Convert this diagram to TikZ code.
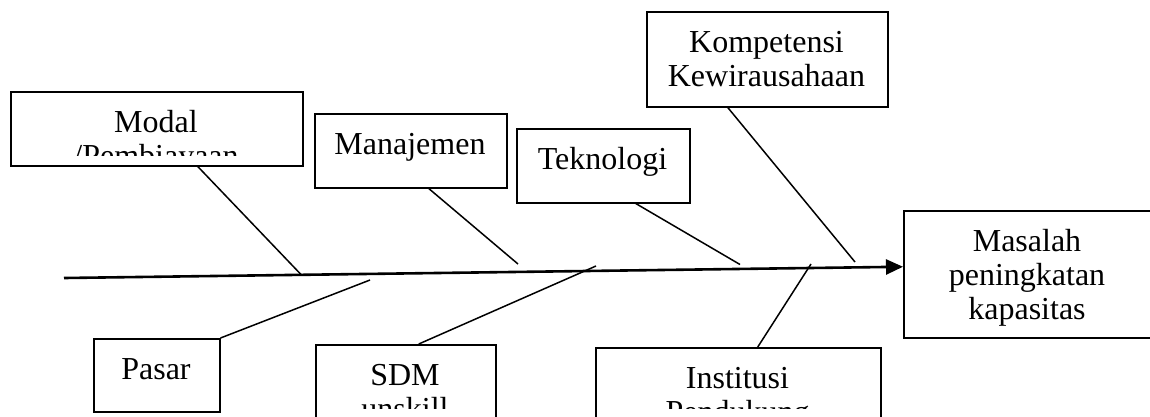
\documentclass[tikz,border=0pt]{standalone}
\usepackage{fontspec}
\setmainfont{Liberation Serif}
\usetikzlibrary{arrows.meta}

\tikzset{
  cause/.style={draw, line width=1.5pt, rectangle, inner sep=0pt, anchor=north west},
  cause text/.style={anchor=base, inner sep=0pt, font=\fontsize{32}{34}\selectfont},
  bone/.style={line width=1.5pt},
  spine/.style={line width=2.6pt, -{Triangle[length=17pt,width=15pt]}}
}

% a framed cause box whose text is cut off at the inner margin
\newcommand\causebox[6]{%
  \node[cause, minimum width={#4-#2}, minimum height={#5-#3}] (#1) at (#2,#3) {};
  \begin{scope}
    \clip (#2+6,#3+6) rectangle (#4-6,#5-10);
    \node[cause text] (#1-text) at ({(#2+#4)/2},#3+41) {\parbox[t]{400pt}{\centering #6}};
  \end{scope}
}

\begin{document}
\begin{tikzpicture}[x=1pt,y=-1pt]
  \fill[white] (0,0) rectangle (1150,416);
  \useasboundingbox (0,0) rectangle (1150,416);

  % causes above the spine
  \causebox{modal}{10}{91}{302}{165}{Modal\\/Pembiayaan}
  \causebox{manajemen}{314}{113}{506}{187}{Manajemen}
  \causebox{teknologi}{516}{128}{689}{202}{Teknologi}
  \causebox{kompetensi}{646}{11}{887}{106}{Kompetensi\\Kewirausahaan}

  % causes below the spine
  \causebox{pasar}{93}{338}{219}{411}{Pasar}
  \causebox{sdm}{315}{344}{495}{418}{SDM\\unskill}
  \causebox{institusi}{595}{347}{880}{418}{Institusi\\Pendukung}

  % effect
  \causebox{effect}{903}{210}{1151}{337}{Masalah\\peningkatan\\kapasitas}

  % spine
  \coordinate (tail) at (64,278);
  \draw[spine] (tail) -- ([yshift=7.5pt]effect.west);

  % free ends of the bones
  \coordinate (e1) at (301,274.5);
  \coordinate (e2) at (518,264);
  \coordinate (e3) at (740,264.5);
  \coordinate (e4) at (855,262);
  \coordinate (e5) at (370,280);
  \coordinate (e6) at (596,266);
  \coordinate (e7) at (811,264);

  % bones
  \draw[bone] ([xshift=41pt]modal.south) -- (e1);
  \draw[bone] ([xshift=18pt]manajemen.south) -- (e2);
  \draw[bone] ([xshift=32.5pt]teknologi.south) -- (e3);
  \draw[bone] ([xshift=-39.5pt]kompetensi.south) -- (e4);
  \draw[bone] (pasar.north east) -- (e5);
  \draw[bone] ([xshift=13pt]sdm.north) -- (e6);
  \draw[bone] ([xshift=19.5pt]institusi.north) -- (e7);
\end{tikzpicture}
\end{document}
